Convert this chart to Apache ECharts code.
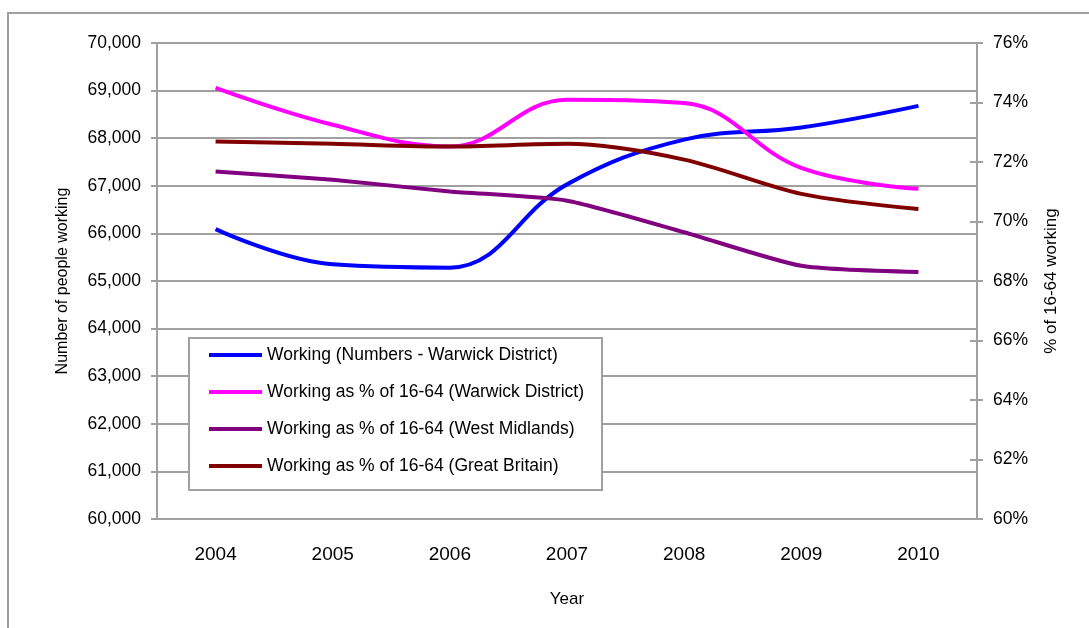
<!DOCTYPE html>
<html lang="en">
<head>
    <meta charset="UTF-8">
    <title>Working population</title>
    <script src="https://cdn.jsdelivr.net/npm/echarts@6/dist/echarts.min.js"></script>
    <style>
        body { margin: 0; background: #fff; }
        #chart { width: 1089px; height: 628px; }
    </style>
</head>
<body>
<div id="chart"></div>
<script type="text/javascript">
    // data
    var years = ['2004', '2005', '2006', '2007', '2008', '2009', '2010'];
    var workingNumbers = [66090, 65350, 65280, 67030, 67970, 68225, 68680];
    var pctWarwick = [74.49, 73.25, 72.52, 74.09, 73.98, 71.80, 71.10];
    var pctWestMidlands = [71.68, 71.40, 71.01, 70.70, 69.64, 68.51, 68.30];
    var pctGreatBritain = [72.69, 72.61, 72.52, 72.61, 72.08, 70.93, 70.42];

    var names = [
        'Working (Numbers - Warwick District)',
        'Working as % of 16-64 (Warwick District)',
        'Working as % of 16-64 (West Midlands)',
        'Working as % of 16-64 (Great Britain)'
    ];

    var gray = '#a0a0a0';
    var font = 'Liberation Sans, Arial, sans-serif';

    var chart = echarts.init(document.getElementById('chart'));

    var option = {
        animation: false,
        textStyle: { fontFamily: font, color: '#000' },
        graphic: [{
            type: 'rect',
            shape: { x: 8, y: 13, width: 1100, height: 640 },
            style: { fill: 'none', stroke: gray, lineWidth: 2 }
        }],
        grid: { left: 157, right: 112, top: 43, bottom: 109 },
        legend: {
            orient: 'vertical',
            left: 189,
            top: 338,
            icon: 'rect',
            itemWidth: 53,
            itemHeight: 4,
            itemGap: 17,
            itemTextGap: 6,
            padding: [7, 18, 14, 20],
            borderColor: gray,
            borderWidth: 2,
            backgroundColor: '#fff',
            textStyle: { fontSize: 17.5, lineHeight: 20, color: '#000', fontFamily: font },
            data: names
        },
        xAxis: {
            type: 'category',
            data: years,
            name: 'Year',
            nameLocation: 'middle',
            nameGap: 72,
            nameTextStyle: { fontSize: 17 },
            axisLine: { lineStyle: { color: gray, width: 2 } },
            axisTick: { lineStyle: { color: gray, width: 2 }, length: 7 },
            axisLabel: { fontSize: 19, margin: 26, color: '#000' }
        },
        yAxis: [{
            type: 'value',
            min: 60000,
            max: 70000,
            interval: 1000,
            name: 'Number of people working',
            nameLocation: 'middle',
            nameGap: 86,
            nameTextStyle: { fontSize: 16 },
            axisLine: { show: true, lineStyle: { color: gray, width: 2 } },
            axisTick: { show: true, length: 6, lineStyle: { color: gray, width: 2 } },
            axisLabel: {
                fontSize: 17.5, margin: 16, color: '#000',
                formatter: function (v) { return v.toLocaleString('en-US'); }
            },
            splitLine: { lineStyle: { color: gray, width: 2 } }
        }, {
            type: 'value',
            position: 'right',
            min: 60,
            max: 76,
            interval: 2,
            name: '% of 16-64 working',
            nameLocation: 'middle',
            nameGap: 66,
            nameTextStyle: { fontSize: 17 },
            axisLine: { show: true, lineStyle: { color: gray, width: 2 } },
            axisTick: { show: true, length: 6, lineStyle: { color: gray, width: 2 } },
            axisLabel: { fontSize: 17.5, margin: 16, color: '#000', formatter: '{value}%' },
            splitLine: { show: false }
        }, {
            // inner half of the right axis ticks
            type: 'value',
            position: 'right',
            min: 60,
            max: 76,
            interval: 2,
            axisLine: { show: false },
            axisTick: { show: true, inside: true, length: 7, lineStyle: { color: gray, width: 2 } },
            axisLabel: { show: false },
            splitLine: { show: false }
        }],
        series: [{
            name: names[0],
            type: 'line',
            yAxisIndex: 0,
            data: workingNumbers,
            smooth: 0.4,
            symbol: 'none',
            itemStyle: { color: '#0000ff' },
            lineStyle: { color: '#0000ff', width: 4 }
        }, {
            name: names[1],
            type: 'line',
            yAxisIndex: 1,
            data: pctWarwick,
            smooth: 0.4,
            symbol: 'none',
            itemStyle: { color: '#ff00ff' },
            lineStyle: { color: '#ff00ff', width: 4 }
        }, {
            name: names[2],
            type: 'line',
            yAxisIndex: 1,
            data: pctWestMidlands,
            smooth: 0.2,
            symbol: 'none',
            itemStyle: { color: '#800080' },
            lineStyle: { color: '#800080', width: 4 }
        }, {
            name: names[3],
            type: 'line',
            yAxisIndex: 1,
            data: pctGreatBritain,
            smooth: 0.3,
            symbol: 'none',
            itemStyle: { color: '#800000' },
            lineStyle: { color: '#800000', width: 4 }
        }]
    };

    chart.setOption(option);
</script>
</body>
</html>
